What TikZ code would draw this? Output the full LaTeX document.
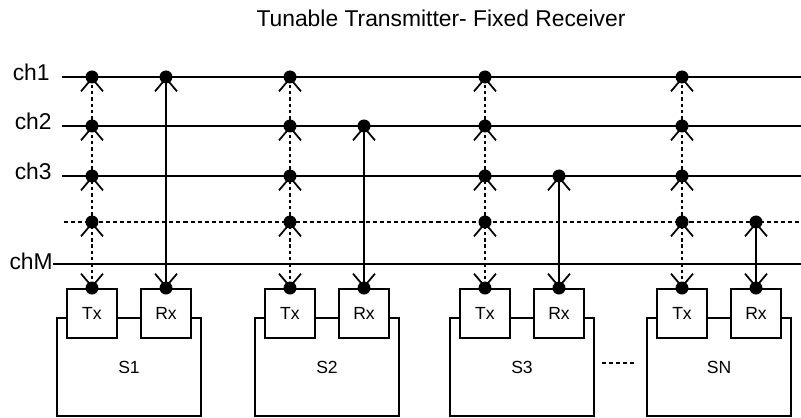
\documentclass[tikz,border=0pt]{standalone}
\usepackage{fontspec}
\setmainfont{Liberation Sans}
\usetikzlibrary{arrows.meta, positioning, calc}

\begin{document}
\begin{tikzpicture}[
        x=0.02cm, y=-0.02cm,
        barb/.tip={Straight Barb[length=2.6mm, width=4.4mm, line width=1pt]},
        chan/.style={line width=1.1pt},
        dotchan/.style={line width=1.1pt, dash pattern=on 2.3pt off 1.7pt},
        txline/.style={line width=1.1pt, dash pattern=on 2pt off 1.6pt},
        title/.style={font=\fontsize{13}{15}\selectfont, inner sep=0pt},
        chlab/.style={font=\fontsize{13}{15}\selectfont, inner sep=0pt, anchor=base east},
        station/.style={draw, line width=1.1pt, minimum width=2.88cm, minimum height=1.96cm, font=\fontsize{10}{12}\selectfont},
        unit/.style={draw, line width=1.1pt, fill=white, minimum width=1cm, minimum height=0.98cm, font=\fontsize{10}{12}\selectfont},
        dot/.style={circle, fill=black, inner sep=0pt, minimum size=0.26cm}
    ]
    \useasboundingbox (0,0) rectangle (801,418);

    % Title
    \node[title, anchor=base] (ttl) at (441,27) {Tunable Transmitter- Fixed Receiver};

    % Channel labels
    \node[chlab] (l1) at (50,81) {ch1};
    \node[chlab] (l2) at (52,130) {ch2};
    \node[chlab] (l3) at (52,180) {ch3};
    \node[chlab] (l5) at (53,270) {chM};

    % Channels
    \foreach \c/\y/\x in {1/77/62, 2/126/62, 3/176/62, 5/264/53} {
        \coordinate (w\c) at (\x,\y);
        \coordinate (e\c) at (801,\y);
        \draw[chan] (w\c) -- (e\c);
    }
    \coordinate (w4) at (64,222);
    \coordinate (e4) at (801,222);
    \draw[dotchan] (w4) -- (e4);

    % Stations
    \foreach \i/\tx/\lab/\ry in {1/92/S1/77, 2/290/S2/126, 3/485/S3/176, 4/682/SN/222} {
        \pgfmathsetmacro{\rx}{\tx+74}
        \node[station] (s\i) at ({\tx+37},367) {\lab};
        \node[unit] (tx\i) at (\tx,313.5) {Tx};
        \node[unit] (rx\i) at (\rx,313.5) {Rx};
        \node[dot] (txd\i) at (tx\i.north) {};
        \node[dot] (rxd\i) at (rx\i.north) {};
        \foreach \c/\y in {1/77, 2/126, 3/176, 4/222}
            \node[dot] (t\i-\c) at (\tx,\y) {};
        \node[dot] (r\i) at (\rx,\ry) {};

        % tunable transmitter
        \draw[txline, barb-barb] (txd\i.center) -- (t\i-4.center);
        \foreach \a/\b in {4/3, 3/2, 2/1}
            \draw[txline, -barb] (t\i-\a.center) -- (t\i-\b.center);

        % fixed receiver
        \draw[chan, barb-barb] (rxd\i.center) -- (r\i.center);
    }

    % more stations
    \coordinate (g1) at (602,363);
    \coordinate (g2) at (634,363);
    \draw[dotchan] (g1) -- (g2);

\end{tikzpicture}
\end{document}
